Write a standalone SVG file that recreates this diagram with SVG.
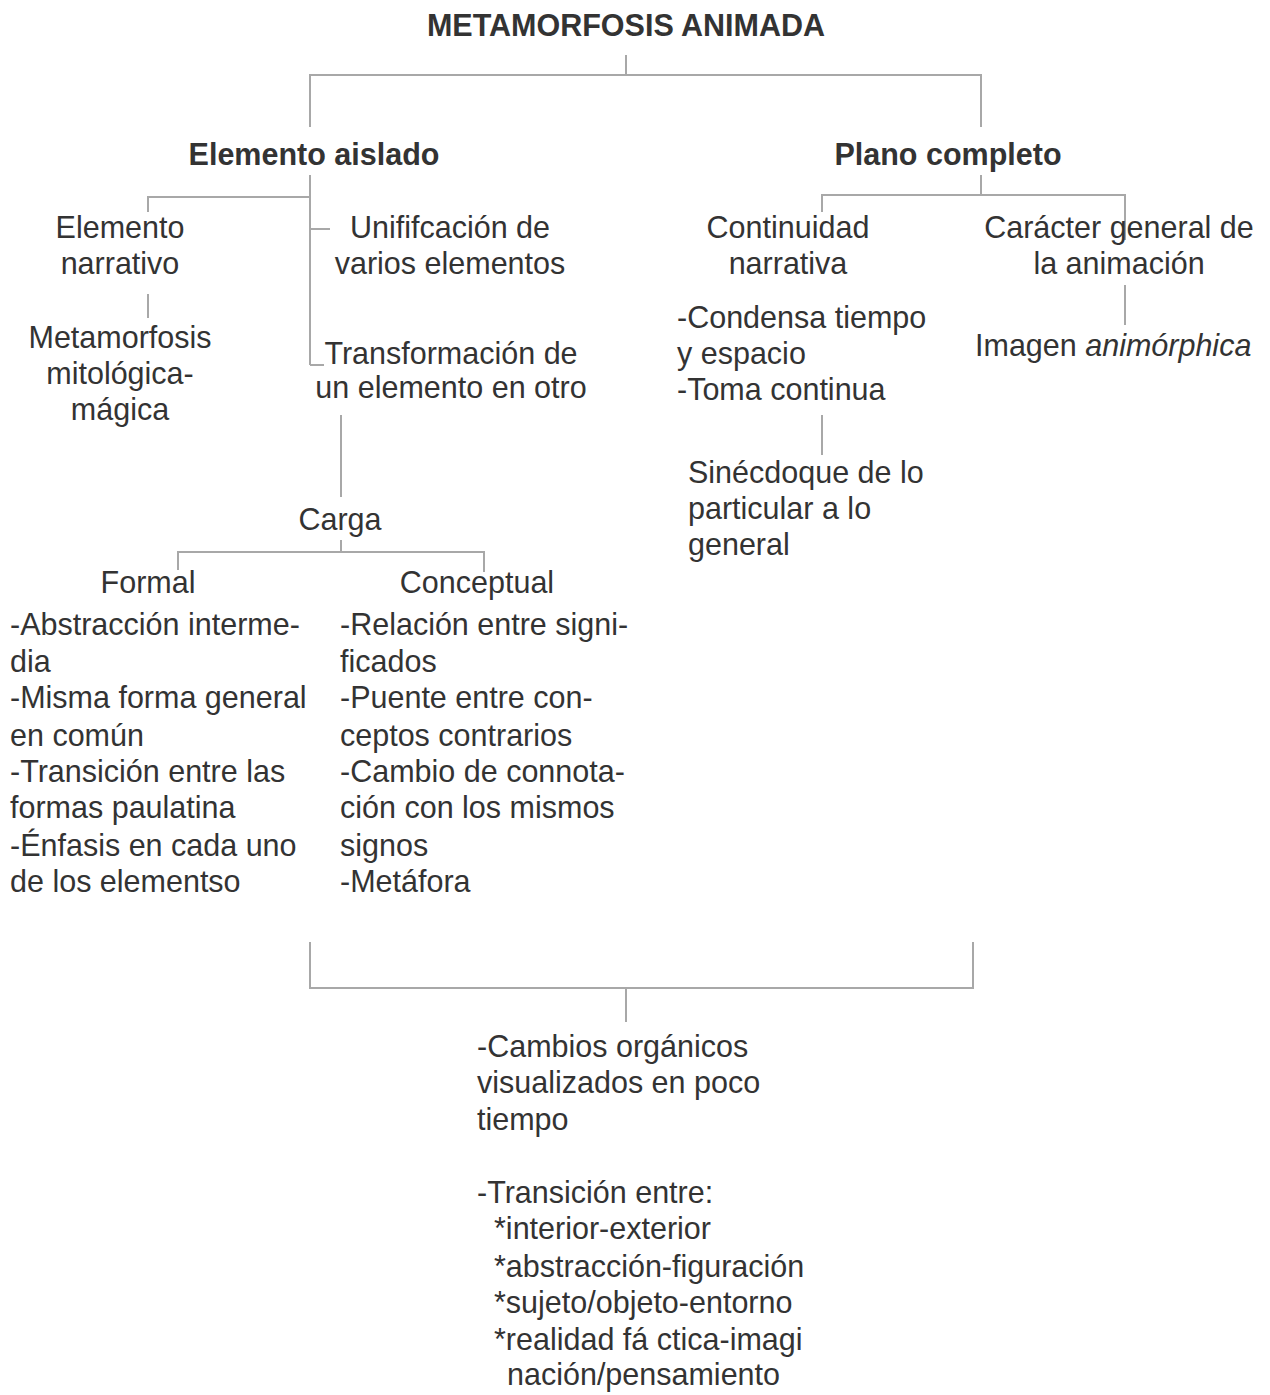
<svg xmlns="http://www.w3.org/2000/svg" width="1270" height="1395" viewBox="0 0 1270 1395">
<style>
text{font-family:"Liberation Sans",Arial,sans-serif;font-size:30.5px;fill:#333}
.b{font-weight:bold}
.c{text-anchor:middle}
.conn line,.conn polyline{stroke:#a8a8a8;stroke-width:2;fill:none}
</style>
<rect width="1270" height="1395" fill="#fff"/>
<g class="conn" id="connectors">
<line x1="626" y1="55" x2="626" y2="75"/>
<polyline points="310,127 310,75 981,75 981,127"/>
<line x1="310" y1="175" x2="310" y2="365"/>
<polyline points="148,212 148,197 310,197"/>
<line x1="310" y1="229" x2="330" y2="229"/>
<line x1="310" y1="365" x2="324" y2="365"/>
<line x1="148" y1="294" x2="148" y2="318"/>
<line x1="341" y1="415" x2="341" y2="497"/>
<line x1="341" y1="540" x2="341" y2="552"/>
<polyline points="178,570 178,552 484,552 484,572"/>
<line x1="981" y1="175" x2="981" y2="195"/>
<polyline points="822,212 822,195 1125,195 1125,240"/>
<line x1="1125" y1="285" x2="1125" y2="325"/>
<line x1="822" y1="415" x2="822" y2="455"/>
<polyline points="310,942 310,988 973,988 973,942"/>
<line x1="626" y1="988" x2="626" y2="1022"/>
</g>
<g id="title"><text class="b c" x="626" y="36">METAMORFOSIS ANIMADA</text></g>
<g id="elemento-aislado"><text class="b c" x="314" y="165">Elemento aislado</text></g>
<g id="plano-completo"><text class="b c" x="948" y="165">Plano completo</text></g>
<g id="elemento-narrativo"><text class="c" x="120" y="238">Elemento</text><text class="c" x="120" y="274">narrativo</text></g>
<g id="unificacion"><text class="c" x="450" y="238">Unififcación de</text><text class="c" x="450" y="274">varios elementos</text></g>
<g id="metamorfosis-mitologica"><text class="c" x="120" y="348">Metamorfosis</text><text class="c" x="120" y="384">mitológica-</text><text class="c" x="120" y="420">mágica</text></g>
<g id="transformacion"><text class="c" x="451" y="364">Transformación de</text><text class="c" x="451" y="398">un elemento en otro</text></g>
<g id="carga"><text class="c" x="340" y="530">Carga</text></g>
<g id="formal"><text class="c" x="148" y="593">Formal</text>
<text x="10" y="635">-Abstracción interme-</text><text x="10" y="672">dia</text><text x="10" y="708">-Misma forma general</text><text x="10" y="746">en común</text><text x="10" y="782">-Transición entre las</text><text x="10" y="818">formas paulatina</text><text x="10" y="856">-Énfasis en cada uno</text><text x="10" y="892">de los elementso</text></g>
<g id="conceptual"><text class="c" x="477" y="593">Conceptual</text>
<text x="340" y="635">-Relación entre signi-</text><text x="340" y="672">ficados</text><text x="340" y="708">-Puente entre con-</text><text x="340" y="746">ceptos contrarios</text><text x="340" y="782">-Cambio de connota-</text><text x="340" y="818">ción con los mismos</text><text x="340" y="856">signos</text><text x="340" y="892">-Metáfora</text></g>
<g id="continuidad"><text class="c" x="788" y="238">Continuidad</text><text class="c" x="788" y="274">narrativa</text>
<text x="677" y="328">-Condensa tiempo</text><text x="677" y="364">y espacio</text><text x="677" y="400">-Toma continua</text></g>
<g id="sinecdoque"><text x="688" y="483">Sinécdoque de lo</text><text x="688" y="519">particular a lo</text><text x="688" y="555">general</text></g>
<g id="caracter"><text class="c" x="1119" y="238">Carácter general de</text><text class="c" x="1119" y="274">la animación</text></g>
<g id="imagen"><text x="975" y="356">Imagen <tspan font-style="italic">animórphica</tspan></text></g>
<g id="resultado"><text x="477" y="1057">-Cambios orgánicos</text><text x="477" y="1093">visualizados en poco</text><text x="477" y="1130">tiempo</text>
<text x="477" y="1203">-Transición entre:</text><text x="494" y="1239">*interior-exterior</text><text x="494" y="1277">*abstracción-figuración</text><text x="494" y="1313">*sujeto/objeto-entorno</text><text x="494" y="1350">*realidad fá ctica-imagi</text><text x="507" y="1385">nación/pensamiento</text></g>
</svg>
